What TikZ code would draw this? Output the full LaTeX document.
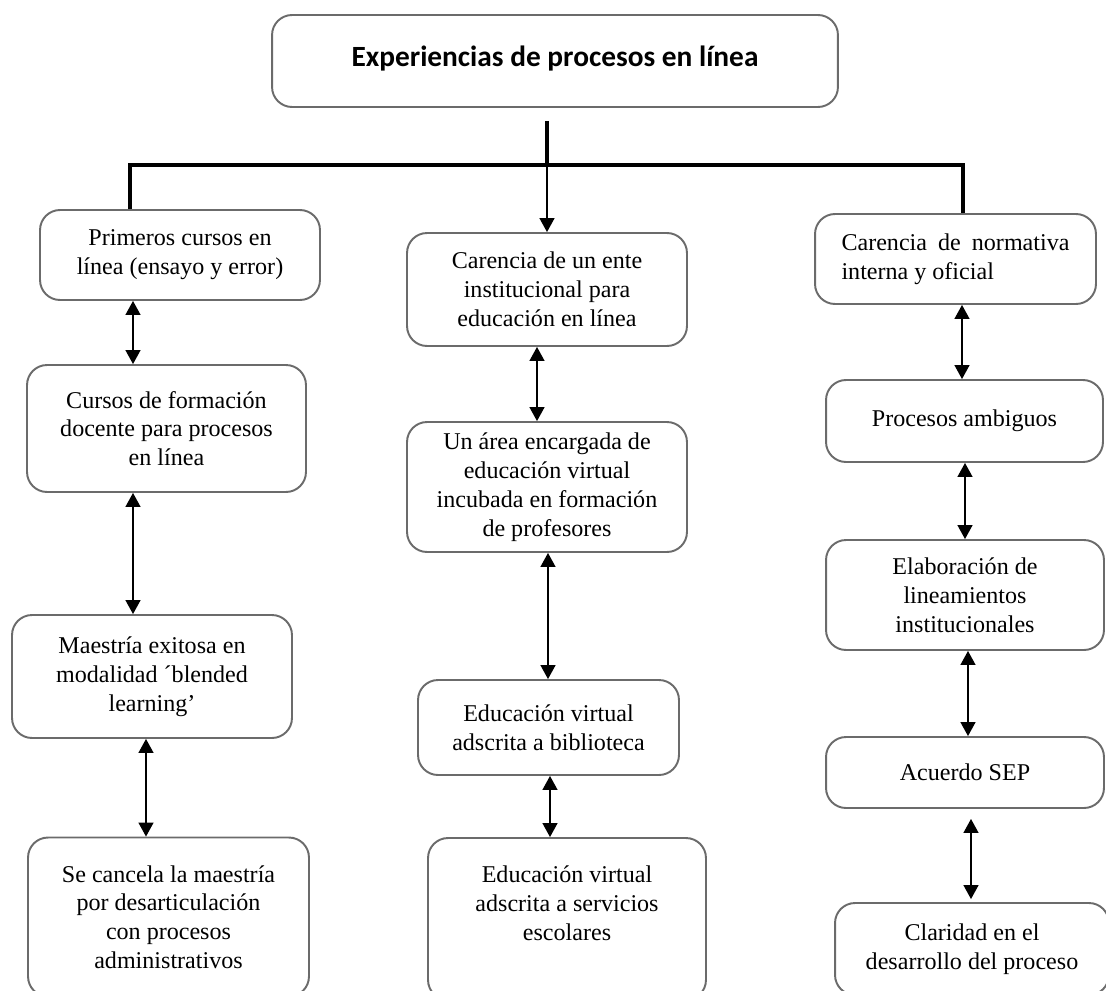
\documentclass[tikz,border=0pt]{standalone}
\usepackage{fontspec}
\setmainfont{Liberation Serif}
\newfontfamily\titlefont{Carlito}
\usetikzlibrary{arrows.meta, positioning, calc}

\begin{document}
\begin{tikzpicture}[x=0.02cm, y=-0.02cm,
    box/.style={draw=black!58, line width=1.1pt, rounded corners=0.4cm, align=center, inner sep=0pt, font=\fontsize{13.7}{16.4}\selectfont},
    tronco/.style={line width=2.3pt, line join=miter},
    flecha/.style={line width=0.8pt, -{Triangle[width=0.3cm,length=0.28cm]}},
    dbl/.style={line width=0.8pt, {Triangle[width=0.3cm,length=0.28cm]}-{Triangle[width=0.3cm,length=0.28cm]}}
]
    \useasboundingbox (0,0) rectangle (1106,991);
    % titulo
    \node[box, minimum width=11.32cm, minimum height=1.84cm, text depth=0.2cm, font=\titlefont\bfseries\fontsize{16.7}{20}\selectfont] at (555,61) (titulo) {Experiencias de procesos en línea};
    \coordinate (rama) at (547,165);

    % columna izquierda
    \node[box, minimum width=5.6cm, minimum height=1.8cm] at (180,255) (primeros) {Primeros cursos en\\línea (ensayo y error)};
    \node[box, minimum width=5.58cm, minimum height=2.54cm] at (166.5,428.5) (formacion) {Cursos de formación\\docente para procesos\\en línea};
    \node[box, minimum width=5.6cm, minimum height=2.46cm] at (152,676.5) (maestria) {Maestría exitosa en\\modalidad ´blended\\learning’};
    \node[box, minimum width=5.62cm, minimum height=3.18cm] at (168.5,917) (cancela) {Se cancela la maestría\\por desarticulación\\con procesos\\administrativos};

    % columna central
    \node[box, minimum width=5.6cm, minimum height=2.26cm] at (547,289.5) (ente) {Carencia de un ente\\institucional para\\educación en línea};
    \node[box, minimum width=5.6cm, minimum height=2.6cm] at (547,487) (area) {Un área encargada de\\educación virtual\\incubada en formación\\de profesores};
    \node[box, minimum width=5.22cm, minimum height=1.9cm] at (548.5,727.5) (biblioteca) {Educación virtual\\adscrita a biblioteca};
    \node[box, minimum width=5.56cm, minimum height=3.24cm, text depth=0.64cm] at (567,919) (servicios) {Educación virtual\\adscrita a servicios\\escolares};

    % columna derecha
    \node[box, minimum width=5.62cm, minimum height=1.8cm, align=left] at (955.5,259) (normativa) {\makebox[4.56cm][s]{Carencia de normativa}\\interna y oficial};
    \node[box, minimum width=5.54cm, minimum height=1.64cm] at (964.5,421) (ambiguos) {Procesos ambiguos};
    \node[box, minimum width=5.56cm, minimum height=2.2cm] at (965,595) (lineamientos) {Elaboración de\\lineamientos\\institucionales};
    \node[box, minimum width=5.56cm, minimum height=1.42cm] at (965,772.5) (acuerdo) {Acuerdo SEP};
    \node[box, minimum width=5.48cm, minimum height=1.84cm] at (972,949) (claridad) {Claridad en el\\desarrollo del proceso};

    % ramas
    \draw[tronco] ($(titulo.south)+(-8,13)$) -- (rama);
    \draw[tronco] (primeros.north -| 130,0) |- (rama) -| (normativa.north -| 963,0);
    \draw[flecha] (rama) -- (ente.north -| rama);

    % flechas dobles
    \draw[dbl] (primeros.south -| 133,0) -- (formacion.north -| 133,0);
    \draw[dbl] (formacion.south -| 133,0) -- (maestria.north -| 133,0);
    \draw[dbl] (maestria.south -| 146,0) -- (cancela.north -| 146,0);
    \draw[dbl] (ente.south -| 537,0) -- (area.north -| 537,0);
    \draw[dbl] (area.south -| 548,0) -- (biblioteca.north -| 548,0);
    \draw[dbl] (biblioteca.south -| 550,0) -- (servicios.north -| 550,0);
    \draw[dbl] (normativa.south -| 962,0) -- (ambiguos.north -| 962,0);
    \draw[dbl] (ambiguos.south -| 965,0) -- (lineamientos.north -| 965,0);
    \draw[dbl] (lineamientos.south -| 968,0) -- (acuerdo.north -| 968,0);
    \draw[dbl] ($(acuerdo.south -| 971,0)+(0,10)$) -- ($(claridad.north -| 971,0)+(0,-3)$);
\end{tikzpicture}
\end{document}
